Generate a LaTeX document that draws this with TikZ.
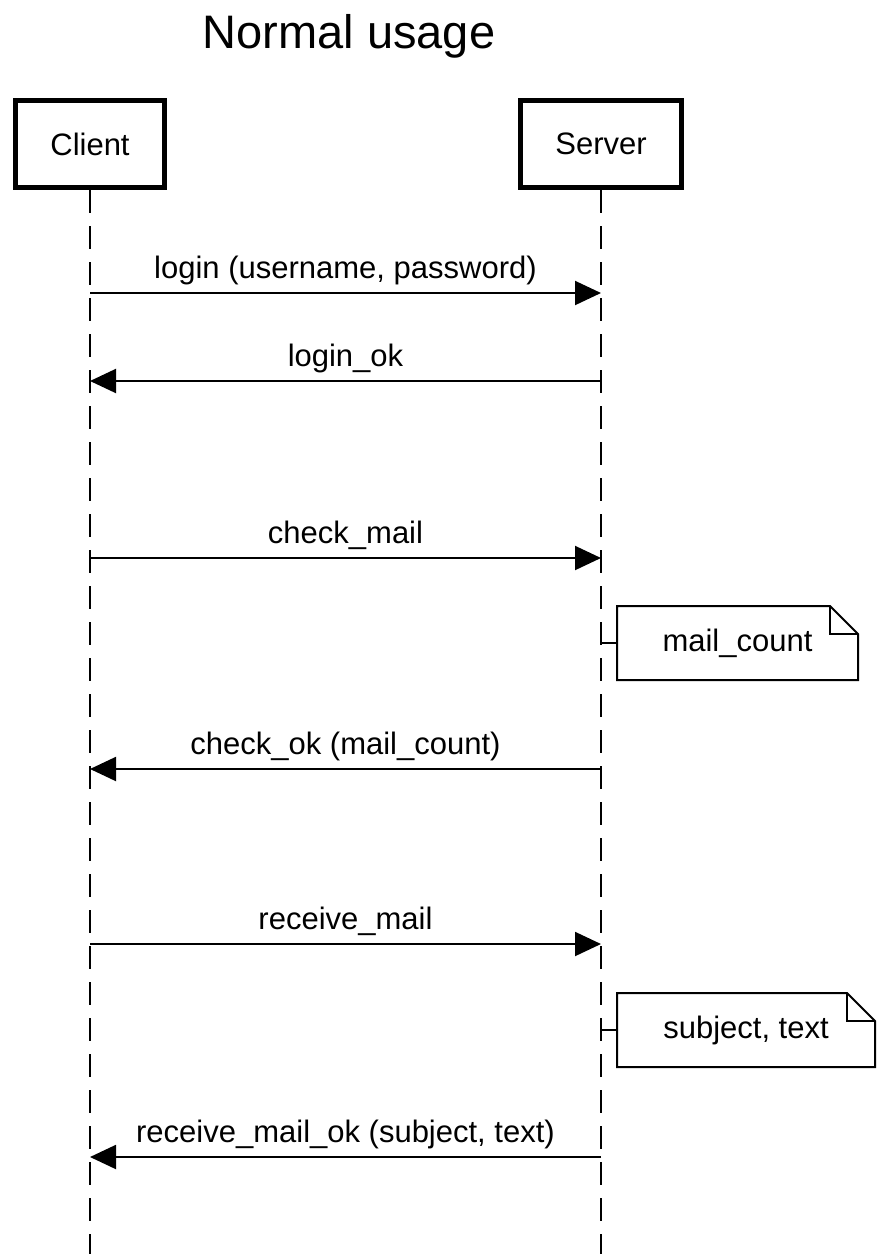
\documentclass[tikz,border=0pt]{standalone}
\usepackage{fontspec}
\setmainfont{Liberation Sans}
\usetikzlibrary{arrows.meta,positioning}

\begin{document}
\begin{tikzpicture}[x=1pt,y=-1pt,
  actor/.style={draw,line width=5pt,minimum height=87pt,inner sep=0pt,font=\fontsize{31}{37}\selectfont},
  lifeline/.style={line width=2pt,dash pattern=on 23pt off 13pt},
  msg/.style={line width=2pt,-{Triangle[length=26pt,width=24pt]}},
  msglabel/.style={midway,anchor=base,yshift=15pt,inner sep=0pt,font=\fontsize{31}{37}\selectfont},
  notebox/.style={minimum height=74pt,inner sep=0pt,outer sep=0pt,font=\fontsize{31}{37}\selectfont},
  noteline/.style={line width=2pt}]
  \useasboundingbox (0,0) rectangle (890,1254);
  \node[anchor=base,inner sep=0pt,font=\fontsize{47}{56}\selectfont] (title) at (349,48) {Normal usage};
  % participants and lifelines
  \node[actor,minimum width=149pt] (client) at (90,144) {Client};
  \node[actor,minimum width=161pt] (server) at (601,144) {Server};
  \coordinate (clientend) at (client.south |- 0,1254);
  \coordinate (serverend) at (server.south |- 0,1254);
  \draw[lifeline] (client.south) -- (clientend);
  \draw[lifeline] (server.south) -- (serverend);
  % message rows
  \foreach \m/\y in {1/293,2/381,3/558,4/769,5/944,6/1157} {
    \coordinate (c\m) at (client.south |- 0,\y);
    \coordinate (s\m) at (server.south |- 0,\y);
  }
  \draw[msg] (c1) -- (s1) node[msglabel] {login (username, password)};
  \draw[msg] (s2) -- (c2) node[msglabel] {login\_ok};
  \draw[msg] (c3) -- (s3) node[msglabel] {check\_mail};
  \draw[msg] (s4) -- (c4) node[msglabel] {check\_ok (mail\_count)};
  \draw[msg] (c5) -- (s5) node[msglabel] {receive\_mail};
  \draw[msg] (s6) -- (c6) node[msglabel] {receive\_mail\_ok (subject, text)};
  % notes
  \node[notebox,minimum width=241pt] (mailcount) at (737.5,643) {mail\_count};
  \node[notebox,minimum width=258pt] (subjtext) at (746,1030) {subject, text};
  \foreach \n in {mailcount,subjtext} {
    \draw[noteline] (\n.south west) -- (\n.north west) -- ([xshift=-28pt]\n.north east)
      -- ([yshift=-28pt]\n.north east) -- (\n.south east) -- cycle;
    \draw[noteline] ([xshift=-28pt]\n.north east) |- ([yshift=-28pt]\n.north east);
    \draw[noteline] (\n.west) -- (\n.west -| server.south);
  }
\end{tikzpicture}
\end{document}
